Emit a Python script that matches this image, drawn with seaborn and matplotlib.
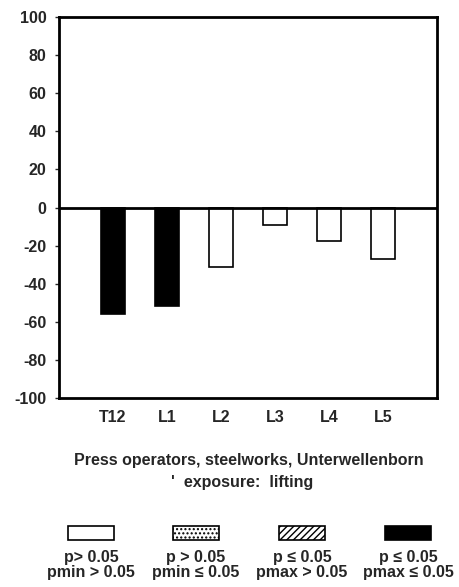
import matplotlib
matplotlib.use("Agg")
import matplotlib.pyplot as plt
from matplotlib.patches import Rectangle
import seaborn as sns
import pandas as pd

# Werte
segments = ['T12', 'L1', 'L2', 'L3', 'L4', 'L5']
values = [-56, -51.5, -31, -9, -17.5, -27]
signif = ['pmax', 'pmax', 'none', 'none', 'none', 'none']

legend_labels = ['p> 0.05\npmin > 0.05', 'p > 0.05\npmin \u2264 0.05',
                 'p \u2264 0.05\npmax > 0.05', 'p \u2264 0.05\npmax \u2264 0.05']

fill = {'none': 'white', 'pmax': 'black'}

df = pd.DataFrame({'segment': segments, 'value': values, 'sig': signif})

sns.set_style('white')
plt.rcParams['font.family'] = ['Liberation Sans', 'DejaVu Sans']
plt.rcParams['axes.unicode_minus'] = False

fig = plt.figure(figsize=(4.6, 5.87), dpi=100)
ax = fig.add_axes([59/460, 1 - 398/587, 378/460, 381/587])

sns.barplot(data=df, x='segment', y='value', hue='segment',
            palette=[fill[s] for s in signif], edgecolor='black',
            linewidth=1.2, width=0.46, legend=False, ax=ax)

ax.axhline(0, color='black', lw=2)
ax.set_xlim(-1, 6)
ax.set_ylim(-100, 100)
ax.set_yticks(range(-100, 101, 20))
ax.set_xlabel('')
ax.set_ylabel('')
for sp in ax.spines.values():
    sp.set_linewidth(2)
    sp.set_color('black')
ax.tick_params(axis='y', left=True, length=3, width=1, labelsize=11.5, pad=6)
ax.tick_params(axis='x', bottom=False, labelsize=11.5, pad=5)
for lab in ax.get_xticklabels() + ax.get_yticklabels():
    lab.set_fontweight('bold')

fig.text(249/460, 1 - 461/587, 'Press operators, steelworks, Unterwellenborn',
         ha='center', va='center', fontsize=11.5, fontweight='bold')
fig.text(242/460, 1 - 483/587, "'  exposure:  lifting",
         ha='center', va='center', fontsize=11.5, fontweight='bold')

# Legende: Kästchen über zweizeiligem Text
centers = [91, 196, 302, 408]
styles = [dict(facecolor='white', hatch=None),
          dict(facecolor='white', hatch='....'),
          dict(facecolor='white', hatch='/////'),
          dict(facecolor='black', hatch=None)]
for cx, st, lab in zip(centers, styles, legend_labels):
    r = Rectangle(((cx - 23)/460, 1 - 540/587), 46/460, 14/587,
                  transform=fig.transFigure, edgecolor='black', lw=1.2, **st)
    fig.patches.append(r)
    fig.text(cx/460, 1 - 565/587, lab, ha='center', va='center',
             fontsize=11.5, fontweight='bold', linespacing=1.05)

fig.savefig('out.png', dpi=100)
